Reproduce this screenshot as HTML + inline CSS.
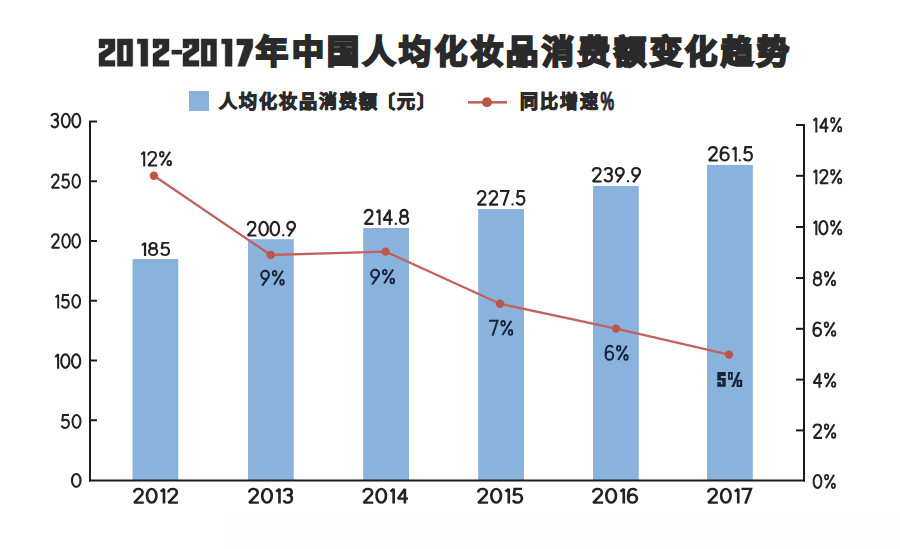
<!DOCTYPE html>
<html lang="zh-CN"><head><meta charset="utf-8"><title>2012-2017年中国人均化妆品消费额变化趋势</title>
<style>
html,body{margin:0;padding:0;background:#ffffff;width:900px;height:549px;overflow:hidden}
svg{display:block;font-family:"Liberation Sans",sans-serif}
</style></head><body>
<svg width="900" height="549" viewBox="0 0 900 549">
<rect x="224" y="512" width="676" height="37" fill="#fdfdfd"/>
<rect x="132.5" y="259.0" width="45.8" height="221.5" fill="#89b2dd"/>
<rect x="248.0" y="239.2" width="45.8" height="241.3" fill="#89b2dd"/>
<rect x="363.2" y="228.0" width="45.8" height="252.5" fill="#89b2dd"/>
<rect x="478.2" y="209.1" width="45.8" height="271.4" fill="#89b2dd"/>
<rect x="593.0" y="185.9" width="45.8" height="294.6" fill="#89b2dd"/>
<rect x="707.0" y="164.9" width="45.8" height="315.6" fill="#89b2dd"/>
<rect x="89" y="121" width="2" height="360.5" fill="#1c1c1c"/>
<rect x="803" y="124" width="2" height="357.5" fill="#1c1c1c"/>
<rect x="89" y="479.5" width="716" height="2" fill="#1c1c1c"/>
<rect x="89" y="120.50" width="8" height="2" fill="#1c1c1c"/>
<rect x="89" y="180.25" width="8" height="2" fill="#1c1c1c"/>
<rect x="89" y="240.00" width="8" height="2" fill="#1c1c1c"/>
<rect x="89" y="299.75" width="8" height="2" fill="#1c1c1c"/>
<rect x="89" y="359.50" width="8" height="2" fill="#1c1c1c"/>
<rect x="89" y="419.25" width="8" height="2" fill="#1c1c1c"/>
<rect x="796" y="124.00" width="9" height="2" fill="#1c1c1c"/>
<rect x="796" y="174.80" width="9" height="2" fill="#1c1c1c"/>
<rect x="796" y="226.00" width="9" height="2" fill="#1c1c1c"/>
<rect x="796" y="277.00" width="9" height="2" fill="#1c1c1c"/>
<rect x="796" y="327.80" width="9" height="2" fill="#1c1c1c"/>
<rect x="796" y="378.60" width="9" height="2" fill="#1c1c1c"/>
<rect x="796" y="429.40" width="9" height="2" fill="#1c1c1c"/>
<polyline points="153.9,175.8 270.6,255.0 385.6,251.6 500.0,303.8 616.1,328.6 729.0,354.6" fill="none" stroke="#c2625f" stroke-width="2.3" stroke-linejoin="round"/>
<circle cx="153.9" cy="175.8" r="4.2" fill="#bb5648"/>
<circle cx="270.6" cy="255.0" r="4.2" fill="#bb5648"/>
<circle cx="385.6" cy="251.6" r="4.2" fill="#bb5648"/>
<circle cx="500.0" cy="303.8" r="4.2" fill="#bb5648"/>
<circle cx="616.1" cy="328.6" r="4.2" fill="#bb5648"/>
<circle cx="729.0" cy="354.6" r="4.2" fill="#bb5648"/>
<g transform="translate(50.50 112.80) scale(0.9624 1.0000)" fill="none" stroke="#222222" stroke-width="2.10" fill-rule="nonzero" style="fill:none"><g transform="translate(0.00 0)"><path d="M0.95,3.5 C1.4,1.9 2.8,0.95 4.4,0.95 C6.5,0.95 7.8,2.2 7.8,4 C7.8,5.9 6.4,7.1 4.2,7.1 H3.4 M4.2,7.1 C6.6,7.1 7.95,8.6 7.95,10.7 C7.95,13 6.3,14.55 4.3,14.55 C2.6,14.55 1.3,13.7 0.95,12.1"/></g><g transform="translate(10.80 0)"><ellipse cx="5.1" cy="7.75" rx="4.15" ry="6.8"/></g><g transform="translate(21.70 0)"><ellipse cx="5.1" cy="7.75" rx="4.15" ry="6.8"/></g></g>
<g transform="translate(50.80 173.60) scale(0.9149 0.9742)" fill="none" stroke="#222222" stroke-width="2.10" fill-rule="nonzero" style="fill:none"><g transform="translate(0.00 0)"><path d="M1.05,4.5 C1.05,2.3 2.7,0.95 4.75,0.95 C6.9,0.95 8.45,2.4 8.45,4.4 C8.45,5.7 7.9,6.6 6.9,7.7 L1.1,14.55 H9.5" stroke-linejoin="miter" stroke-miterlimit="2"/></g><g transform="translate(11.40 0)"><path d="M8.6,0.95 H2.3 L1.5,7.4 C2.3,6.5 3.5,6 4.9,6 C7.1,6 8.45,7.8 8.45,10.2 C8.45,12.7 6.8,14.55 4.7,14.55 C2.8,14.55 1.4,13.6 0.95,12" stroke-linejoin="miter" stroke-miterlimit="2"/></g><g transform="translate(22.70 0)"><ellipse cx="5.1" cy="7.75" rx="4.15" ry="6.8"/></g></g>
<g transform="translate(50.80 233.40) scale(0.9262 0.9871)" fill="none" stroke="#222222" stroke-width="2.10" fill-rule="nonzero" style="fill:none"><g transform="translate(0.00 0)"><path d="M1.05,4.5 C1.05,2.3 2.7,0.95 4.75,0.95 C6.9,0.95 8.45,2.4 8.45,4.4 C8.45,5.7 7.9,6.6 6.9,7.7 L1.1,14.55 H9.5" stroke-linejoin="miter" stroke-miterlimit="2"/></g><g transform="translate(11.40 0)"><ellipse cx="5.1" cy="7.75" rx="4.15" ry="6.8"/></g><g transform="translate(22.30 0)"><ellipse cx="5.1" cy="7.75" rx="4.15" ry="6.8"/></g></g>
<g transform="translate(54.60 294.00) scale(0.9362 0.9419)" fill="none" stroke="#222222" stroke-width="2.10" fill-rule="nonzero" style="fill:none"><g transform="translate(0.00 0)"><path d="M0.95,3.6 L3.85,0.95 V15.5" stroke-linejoin="bevel"/></g><g transform="translate(6.70 0)"><path d="M8.6,0.95 H2.3 L1.5,7.4 C2.3,6.5 3.5,6 4.9,6 C7.1,6 8.45,7.8 8.45,10.2 C8.45,12.7 6.8,14.55 4.7,14.55 C2.8,14.55 1.4,13.6 0.95,12" stroke-linejoin="miter" stroke-miterlimit="2"/></g><g transform="translate(18.00 0)"><ellipse cx="5.1" cy="7.75" rx="4.15" ry="6.8"/></g></g>
<g transform="translate(54.30 353.40) scale(0.9926 0.9935)" fill="none" stroke="#222222" stroke-width="2.10" fill-rule="nonzero" style="fill:none"><g transform="translate(0.00 0)"><path d="M0.95,3.6 L3.85,0.95 V15.5" stroke-linejoin="bevel"/></g><g transform="translate(6.00 0)"><ellipse cx="5.1" cy="7.75" rx="4.15" ry="6.8"/></g><g transform="translate(16.90 0)"><ellipse cx="5.1" cy="7.75" rx="4.15" ry="6.8"/></g></g>
<g transform="translate(60.80 414.00) scale(0.9581 0.9548)" fill="none" stroke="#222222" stroke-width="2.10" fill-rule="nonzero" style="fill:none"><g transform="translate(0.00 0)"><path d="M8.6,0.95 H2.3 L1.5,7.4 C2.3,6.5 3.5,6 4.9,6 C7.1,6 8.45,7.8 8.45,10.2 C8.45,12.7 6.8,14.55 4.7,14.55 C2.8,14.55 1.4,13.6 0.95,12" stroke-linejoin="miter" stroke-miterlimit="2"/></g><g transform="translate(11.30 0)"><ellipse cx="5.1" cy="7.75" rx="4.15" ry="6.8"/></g></g>
<g transform="translate(71.00 473.00) scale(1.0294 0.9548)" fill="none" stroke="#222222" stroke-width="2.10" fill-rule="nonzero" style="fill:none"><g transform="translate(0.00 0)"><ellipse cx="5.1" cy="7.75" rx="4.15" ry="6.8"/></g></g>
<g transform="translate(812.60 117.00) scale(0.9642 1.0065)" fill="none" stroke="#222222" stroke-width="2.10" fill-rule="nonzero" style="fill:none"><g transform="translate(0.00 0)"><path d="M0.95,3.6 L3.85,0.95 V15.5" stroke-linejoin="bevel"/></g><g transform="translate(6.70 0)"><path d="M7.0,15.5 V0.95 L0.95,10.6 H9.7" stroke-linejoin="miter" stroke-miterlimit="2"/></g><g transform="translate(18.30 0)"><ellipse cx="2.6" cy="3.3" rx="1.75" ry="2.35" stroke-width="1.75"/><ellipse cx="9.8" cy="12.2" rx="1.75" ry="2.35" stroke-width="1.75"/><path d="M10.6,0.8 L2.0,14.7"/></g></g>
<g transform="translate(812.60 169.00) scale(0.9705 0.9806)" fill="none" stroke="#222222" stroke-width="2.10" fill-rule="nonzero" style="fill:none"><g transform="translate(0.00 0)"><path d="M0.95,3.6 L3.85,0.95 V15.5" stroke-linejoin="bevel"/></g><g transform="translate(6.70 0)"><path d="M1.05,4.5 C1.05,2.3 2.7,0.95 4.75,0.95 C6.9,0.95 8.45,2.4 8.45,4.4 C8.45,5.7 7.9,6.6 6.9,7.7 L1.1,14.55 H9.5" stroke-linejoin="miter" stroke-miterlimit="2"/></g><g transform="translate(18.10 0)"><ellipse cx="2.6" cy="3.3" rx="1.75" ry="2.35" stroke-width="1.75"/><ellipse cx="9.8" cy="12.2" rx="1.75" ry="2.35" stroke-width="1.75"/><path d="M10.6,0.8 L2.0,14.7"/></g></g>
<g transform="translate(812.60 220.00) scale(0.9705 0.9871)" fill="none" stroke="#222222" stroke-width="2.10" fill-rule="nonzero" style="fill:none"><g transform="translate(0.00 0)"><path d="M0.95,3.6 L3.85,0.95 V15.5" stroke-linejoin="bevel"/></g><g transform="translate(6.00 0)"><ellipse cx="5.1" cy="7.75" rx="4.15" ry="6.8"/></g><g transform="translate(18.10 0)"><ellipse cx="2.6" cy="3.3" rx="1.75" ry="2.35" stroke-width="1.75"/><ellipse cx="9.8" cy="12.2" rx="1.75" ry="2.35" stroke-width="1.75"/><path d="M10.6,0.8 L2.0,14.7"/></g></g>
<g transform="translate(812.80 271.00) scale(0.9667 0.9871)" fill="none" stroke="#222222" stroke-width="2.10" fill-rule="nonzero" style="fill:none"><g transform="translate(0.00 0)"><ellipse cx="4.85" cy="4.2" rx="3.3" ry="3.25"/><ellipse cx="4.85" cy="10.65" rx="3.9" ry="3.9"/></g><g transform="translate(11.60 0)"><ellipse cx="2.6" cy="3.3" rx="1.75" ry="2.35" stroke-width="1.75"/><ellipse cx="9.8" cy="12.2" rx="1.75" ry="2.35" stroke-width="1.75"/><path d="M10.6,0.8 L2.0,14.7"/></g></g>
<g transform="translate(812.60 321.50) scale(0.9958 0.9871)" fill="none" stroke="#222222" stroke-width="2.10" fill-rule="nonzero" style="fill:none"><g transform="translate(0.00 0)"><path d="M8.1,2.6 C7.4,1.5 6.3,0.95 4.9,0.95 C2.4,0.95 0.95,3.5 0.95,7.8 V10.5"/><ellipse cx="4.7" cy="10.5" rx="3.75" ry="4.05"/></g><g transform="translate(11.30 0)"><ellipse cx="2.6" cy="3.3" rx="1.75" ry="2.35" stroke-width="1.75"/><ellipse cx="9.8" cy="12.2" rx="1.75" ry="2.35" stroke-width="1.75"/><path d="M10.6,0.8 L2.0,14.7"/></g></g>
<g transform="translate(812.60 372.50) scale(0.9833 0.9871)" fill="none" stroke="#222222" stroke-width="2.10" fill-rule="nonzero" style="fill:none"><g transform="translate(0.00 0)"><path d="M7.0,15.5 V0.95 L0.95,10.6 H9.7" stroke-linejoin="miter" stroke-miterlimit="2"/></g><g transform="translate(11.60 0)"><ellipse cx="2.6" cy="3.3" rx="1.75" ry="2.35" stroke-width="1.75"/><ellipse cx="9.8" cy="12.2" rx="1.75" ry="2.35" stroke-width="1.75"/><path d="M10.6,0.8 L2.0,14.7"/></g></g>
<g transform="translate(812.60 423.50) scale(0.9916 0.9871)" fill="none" stroke="#222222" stroke-width="2.10" fill-rule="nonzero" style="fill:none"><g transform="translate(0.00 0)"><path d="M1.05,4.5 C1.05,2.3 2.7,0.95 4.75,0.95 C6.9,0.95 8.45,2.4 8.45,4.4 C8.45,5.7 7.9,6.6 6.9,7.7 L1.1,14.55 H9.5" stroke-linejoin="miter" stroke-miterlimit="2"/></g><g transform="translate(11.40 0)"><ellipse cx="2.6" cy="3.3" rx="1.75" ry="2.35" stroke-width="1.75"/><ellipse cx="9.8" cy="12.2" rx="1.75" ry="2.35" stroke-width="1.75"/><path d="M10.6,0.8 L2.0,14.7"/></g></g>
<g transform="translate(812.70 474.00) scale(0.9429 0.9677)" fill="none" stroke="#222222" stroke-width="2.10" fill-rule="nonzero" style="fill:none"><g transform="translate(0.00 0)"><ellipse cx="5.1" cy="7.75" rx="4.15" ry="6.8"/></g><g transform="translate(12.10 0)"><ellipse cx="2.6" cy="3.3" rx="1.75" ry="2.35" stroke-width="1.75"/><ellipse cx="9.8" cy="12.2" rx="1.75" ry="2.35" stroke-width="1.75"/><path d="M10.6,0.8 L2.0,14.7"/></g></g>
<g transform="translate(133.00 488.00) scale(1.1335 1.0065)" fill="none" stroke="#222222" stroke-width="2.30" fill-rule="nonzero" style="fill:none"><g transform="translate(0.00 0)"><path d="M1.05,4.5 C1.05,2.3 2.7,0.95 4.75,0.95 C6.9,0.95 8.45,2.4 8.45,4.4 C8.45,5.7 7.9,6.6 6.9,7.7 L1.1,14.55 H9.5" stroke-linejoin="miter" stroke-miterlimit="2"/></g><g transform="translate(11.40 0)"><ellipse cx="5.1" cy="7.75" rx="4.15" ry="6.8"/></g><g transform="translate(23.50 0)"><path d="M0.95,3.6 L3.85,0.95 V15.5" stroke-linejoin="bevel"/></g><g transform="translate(30.20 0)"><path d="M1.05,4.5 C1.05,2.3 2.7,0.95 4.75,0.95 C6.9,0.95 8.45,2.4 8.45,4.4 C8.45,5.7 7.9,6.6 6.9,7.7 L1.1,14.55 H9.5" stroke-linejoin="miter" stroke-miterlimit="2"/></g></g>
<g transform="translate(248.00 488.00) scale(1.1509 1.0065)" fill="none" stroke="#222222" stroke-width="2.30" fill-rule="nonzero" style="fill:none"><g transform="translate(0.00 0)"><path d="M1.05,4.5 C1.05,2.3 2.7,0.95 4.75,0.95 C6.9,0.95 8.45,2.4 8.45,4.4 C8.45,5.7 7.9,6.6 6.9,7.7 L1.1,14.55 H9.5" stroke-linejoin="miter" stroke-miterlimit="2"/></g><g transform="translate(11.40 0)"><ellipse cx="5.1" cy="7.75" rx="4.15" ry="6.8"/></g><g transform="translate(23.50 0)"><path d="M0.95,3.6 L3.85,0.95 V15.5" stroke-linejoin="bevel"/></g><g transform="translate(30.20 0)"><path d="M0.95,3.5 C1.4,1.9 2.8,0.95 4.4,0.95 C6.5,0.95 7.8,2.2 7.8,4 C7.8,5.9 6.4,7.1 4.2,7.1 H3.4 M4.2,7.1 C6.6,7.1 7.95,8.6 7.95,10.7 C7.95,13 6.3,14.55 4.3,14.55 C2.6,14.55 1.3,13.7 0.95,12.1"/></g></g>
<g transform="translate(362.40 488.00) scale(1.1429 1.0065)" fill="none" stroke="#222222" stroke-width="2.30" fill-rule="nonzero" style="fill:none"><g transform="translate(0.00 0)"><path d="M1.05,4.5 C1.05,2.3 2.7,0.95 4.75,0.95 C6.9,0.95 8.45,2.4 8.45,4.4 C8.45,5.7 7.9,6.6 6.9,7.7 L1.1,14.55 H9.5" stroke-linejoin="miter" stroke-miterlimit="2"/></g><g transform="translate(11.40 0)"><ellipse cx="5.1" cy="7.75" rx="4.15" ry="6.8"/></g><g transform="translate(23.50 0)"><path d="M0.95,3.6 L3.85,0.95 V15.5" stroke-linejoin="bevel"/></g><g transform="translate(30.20 0)"><path d="M7.0,15.5 V0.95 L0.95,10.6 H9.7" stroke-linejoin="miter" stroke-miterlimit="2"/></g></g>
<g transform="translate(477.00 488.00) scale(1.1616 1.0065)" fill="none" stroke="#222222" stroke-width="2.30" fill-rule="nonzero" style="fill:none"><g transform="translate(0.00 0)"><path d="M1.05,4.5 C1.05,2.3 2.7,0.95 4.75,0.95 C6.9,0.95 8.45,2.4 8.45,4.4 C8.45,5.7 7.9,6.6 6.9,7.7 L1.1,14.55 H9.5" stroke-linejoin="miter" stroke-miterlimit="2"/></g><g transform="translate(11.40 0)"><ellipse cx="5.1" cy="7.75" rx="4.15" ry="6.8"/></g><g transform="translate(23.50 0)"><path d="M0.95,3.6 L3.85,0.95 V15.5" stroke-linejoin="bevel"/></g><g transform="translate(30.20 0)"><path d="M8.6,0.95 H2.3 L1.5,7.4 C2.3,6.5 3.5,6 4.9,6 C7.1,6 8.45,7.8 8.45,10.2 C8.45,12.7 6.8,14.55 4.7,14.55 C2.8,14.55 1.4,13.6 0.95,12" stroke-linejoin="miter" stroke-miterlimit="2"/></g></g>
<g transform="translate(592.00 488.00) scale(1.1616 1.0065)" fill="none" stroke="#222222" stroke-width="2.30" fill-rule="nonzero" style="fill:none"><g transform="translate(0.00 0)"><path d="M1.05,4.5 C1.05,2.3 2.7,0.95 4.75,0.95 C6.9,0.95 8.45,2.4 8.45,4.4 C8.45,5.7 7.9,6.6 6.9,7.7 L1.1,14.55 H9.5" stroke-linejoin="miter" stroke-miterlimit="2"/></g><g transform="translate(11.40 0)"><ellipse cx="5.1" cy="7.75" rx="4.15" ry="6.8"/></g><g transform="translate(23.50 0)"><path d="M0.95,3.6 L3.85,0.95 V15.5" stroke-linejoin="bevel"/></g><g transform="translate(30.20 0)"><path d="M8.1,2.6 C7.4,1.5 6.3,0.95 4.9,0.95 C2.4,0.95 0.95,3.5 0.95,7.8 V10.5"/><ellipse cx="4.7" cy="10.5" rx="3.75" ry="4.05"/></g></g>
<g transform="translate(707.00 488.00) scale(1.1421 1.0065)" fill="none" stroke="#222222" stroke-width="2.30" fill-rule="nonzero" style="fill:none"><g transform="translate(0.00 0)"><path d="M1.05,4.5 C1.05,2.3 2.7,0.95 4.75,0.95 C6.9,0.95 8.45,2.4 8.45,4.4 C8.45,5.7 7.9,6.6 6.9,7.7 L1.1,14.55 H9.5" stroke-linejoin="miter" stroke-miterlimit="2"/></g><g transform="translate(11.40 0)"><ellipse cx="5.1" cy="7.75" rx="4.15" ry="6.8"/></g><g transform="translate(23.50 0)"><path d="M0.95,3.6 L3.85,0.95 V15.5" stroke-linejoin="bevel"/></g><g transform="translate(30.20 0)"><path d="M0,0.95 H8.25 L3.4,15.5" stroke-linejoin="miter" stroke-miterlimit="2"/></g></g>
<g transform="translate(141.00 242.00) scale(1.0469 0.9032)" fill="none" stroke="#222222" stroke-width="2.10" fill-rule="nonzero" style="fill:none"><g transform="translate(0.00 0)"><path d="M0.95,3.6 L3.85,0.95 V15.5" stroke-linejoin="bevel"/></g><g transform="translate(6.70 0)"><ellipse cx="4.85" cy="4.2" rx="3.3" ry="3.25"/><ellipse cx="4.85" cy="10.65" rx="3.9" ry="3.9"/></g><g transform="translate(18.30 0)"><path d="M8.6,0.95 H2.3 L1.5,7.4 C2.3,6.5 3.5,6 4.9,6 C7.1,6 8.45,7.8 8.45,10.2 C8.45,12.7 6.8,14.55 4.7,14.55 C2.8,14.55 1.4,13.6 0.95,12" stroke-linejoin="miter" stroke-miterlimit="2"/></g></g>
<g transform="translate(246.70 220.90) scale(1.0271 1.0000)" fill="none" stroke="#222222" stroke-width="2.10" fill-rule="nonzero" style="fill:none"><g transform="translate(0.00 0)"><path d="M1.05,4.5 C1.05,2.3 2.7,0.95 4.75,0.95 C6.9,0.95 8.45,2.4 8.45,4.4 C8.45,5.7 7.9,6.6 6.9,7.7 L1.1,14.55 H9.5" stroke-linejoin="miter" stroke-miterlimit="2"/></g><g transform="translate(11.40 0)"><ellipse cx="5.1" cy="7.75" rx="4.15" ry="6.8"/></g><g transform="translate(22.30 0)"><ellipse cx="5.1" cy="7.75" rx="4.15" ry="6.8"/></g><g transform="translate(34.40 0)"><circle cx="1.15" cy="14.35" r="1.15" stroke="none" fill="#222222" style="fill:#222222"/></g><g transform="translate(38.60 0)"><path d="M1.9,15.5 L7.3,7.9 C8.1,6.7 8.45,5.8 8.45,4.9 C8.45,2.7 6.8,0.95 4.7,0.95 C2.6,0.95 0.95,2.7 0.95,4.9 C0.95,7.1 2.6,8.9 4.7,8.9 C5.9,8.9 6.8,8.4 7.3,7.9"/></g></g>
<g transform="translate(363.60 208.90) scale(1.0436 1.0323)" fill="none" stroke="#222222" stroke-width="2.10" fill-rule="nonzero" style="fill:none"><g transform="translate(0.00 0)"><path d="M1.05,4.5 C1.05,2.3 2.7,0.95 4.75,0.95 C6.9,0.95 8.45,2.4 8.45,4.4 C8.45,5.7 7.9,6.6 6.9,7.7 L1.1,14.55 H9.5" stroke-linejoin="miter" stroke-miterlimit="2"/></g><g transform="translate(11.40 0)"><path d="M0.95,3.6 L3.85,0.95 V15.5" stroke-linejoin="bevel"/></g><g transform="translate(18.10 0)"><path d="M7.0,15.5 V0.95 L0.95,10.6 H9.7" stroke-linejoin="miter" stroke-miterlimit="2"/></g><g transform="translate(29.70 0)"><circle cx="1.15" cy="14.35" r="1.15" stroke="none" fill="#222222" style="fill:#222222"/></g><g transform="translate(33.90 0)"><ellipse cx="4.85" cy="4.2" rx="3.3" ry="3.25"/><ellipse cx="4.85" cy="10.65" rx="3.9" ry="3.9"/></g></g>
<g transform="translate(476.70 190.00) scale(1.0232 1.0065)" fill="none" stroke="#222222" stroke-width="2.10" fill-rule="nonzero" style="fill:none"><g transform="translate(0.00 0)"><path d="M1.05,4.5 C1.05,2.3 2.7,0.95 4.75,0.95 C6.9,0.95 8.45,2.4 8.45,4.4 C8.45,5.7 7.9,6.6 6.9,7.7 L1.1,14.55 H9.5" stroke-linejoin="miter" stroke-miterlimit="2"/></g><g transform="translate(11.40 0)"><path d="M1.05,4.5 C1.05,2.3 2.7,0.95 4.75,0.95 C6.9,0.95 8.45,2.4 8.45,4.4 C8.45,5.7 7.9,6.6 6.9,7.7 L1.1,14.55 H9.5" stroke-linejoin="miter" stroke-miterlimit="2"/></g><g transform="translate(22.80 0)"><path d="M0,0.95 H8.25 L3.4,15.5" stroke-linejoin="miter" stroke-miterlimit="2"/></g><g transform="translate(33.90 0)"><circle cx="1.15" cy="14.35" r="1.15" stroke="none" fill="#222222" style="fill:#222222"/></g><g transform="translate(38.10 0)"><path d="M8.6,0.95 H2.3 L1.5,7.4 C2.3,6.5 3.5,6 4.9,6 C7.1,6 8.45,7.8 8.45,10.2 C8.45,12.7 6.8,14.55 4.7,14.55 C2.8,14.55 1.4,13.6 0.95,12" stroke-linejoin="miter" stroke-miterlimit="2"/></g></g>
<g transform="translate(591.70 167.00) scale(1.0467 0.9935)" fill="none" stroke="#222222" stroke-width="2.10" fill-rule="nonzero" style="fill:none"><g transform="translate(0.00 0)"><path d="M1.05,4.5 C1.05,2.3 2.7,0.95 4.75,0.95 C6.9,0.95 8.45,2.4 8.45,4.4 C8.45,5.7 7.9,6.6 6.9,7.7 L1.1,14.55 H9.5" stroke-linejoin="miter" stroke-miterlimit="2"/></g><g transform="translate(11.40 0)"><path d="M0.95,3.5 C1.4,1.9 2.8,0.95 4.4,0.95 C6.5,0.95 7.8,2.2 7.8,4 C7.8,5.9 6.4,7.1 4.2,7.1 H3.4 M4.2,7.1 C6.6,7.1 7.95,8.6 7.95,10.7 C7.95,13 6.3,14.55 4.3,14.55 C2.6,14.55 1.3,13.7 0.95,12.1"/></g><g transform="translate(22.20 0)"><path d="M1.9,15.5 L7.3,7.9 C8.1,6.7 8.45,5.8 8.45,4.9 C8.45,2.7 6.8,0.95 4.7,0.95 C2.6,0.95 0.95,2.7 0.95,4.9 C0.95,7.1 2.6,8.9 4.7,8.9 C5.9,8.9 6.8,8.4 7.3,7.9"/></g><g transform="translate(33.50 0)"><circle cx="1.15" cy="14.35" r="1.15" stroke="none" fill="#222222" style="fill:#222222"/></g><g transform="translate(37.70 0)"><path d="M1.9,15.5 L7.3,7.9 C8.1,6.7 8.45,5.8 8.45,4.9 C8.45,2.7 6.8,0.95 4.7,0.95 C2.6,0.95 0.95,2.7 0.95,4.9 C0.95,7.1 2.6,8.9 4.7,8.9 C5.9,8.9 6.8,8.4 7.3,7.9"/></g></g>
<g transform="translate(707.80 146.20) scale(1.0488 0.9806)" fill="none" stroke="#222222" stroke-width="2.10" fill-rule="nonzero" style="fill:none"><g transform="translate(0.00 0)"><path d="M1.05,4.5 C1.05,2.3 2.7,0.95 4.75,0.95 C6.9,0.95 8.45,2.4 8.45,4.4 C8.45,5.7 7.9,6.6 6.9,7.7 L1.1,14.55 H9.5" stroke-linejoin="miter" stroke-miterlimit="2"/></g><g transform="translate(11.40 0)"><path d="M8.1,2.6 C7.4,1.5 6.3,0.95 4.9,0.95 C2.4,0.95 0.95,3.5 0.95,7.8 V10.5"/><ellipse cx="4.7" cy="10.5" rx="3.75" ry="4.05"/></g><g transform="translate(22.70 0)"><path d="M0.95,3.6 L3.85,0.95 V15.5" stroke-linejoin="bevel"/></g><g transform="translate(29.40 0)"><circle cx="1.15" cy="14.35" r="1.15" stroke="none" fill="#222222" style="fill:#222222"/></g><g transform="translate(33.60 0)"><path d="M8.6,0.95 H2.3 L1.5,7.4 C2.3,6.5 3.5,6 4.9,6 C7.1,6 8.45,7.8 8.45,10.2 C8.45,12.7 6.8,14.55 4.7,14.55 C2.8,14.55 1.4,13.6 0.95,12" stroke-linejoin="miter" stroke-miterlimit="2"/></g></g>
<g transform="translate(140.20 150.90) scale(1.0426 1.0000)" fill="none" stroke="#222222" stroke-width="1.95" fill-rule="nonzero" style="fill:none"><g transform="translate(0.00 0)"><path d="M0.95,3.6 L3.85,0.95 V15.5" stroke-linejoin="bevel"/></g><g transform="translate(6.70 0)"><path d="M1.05,4.5 C1.05,2.3 2.7,0.95 4.75,0.95 C6.9,0.95 8.45,2.4 8.45,4.4 C8.45,5.7 7.9,6.6 6.9,7.7 L1.1,14.55 H9.5" stroke-linejoin="miter" stroke-miterlimit="2"/></g><g transform="translate(18.10 0)"><ellipse cx="2.6" cy="3.3" rx="1.75" ry="2.35" stroke-width="1.75"/><ellipse cx="9.8" cy="12.2" rx="1.75" ry="2.35" stroke-width="1.75"/><path d="M10.6,0.8 L2.0,14.7"/></g></g>
<g transform="translate(260.30 269.90) scale(1.0295 1.0129)" fill="none" stroke="#18233a" stroke-width="1.95" fill-rule="nonzero" style="fill:none"><g transform="translate(0.00 0)"><path d="M1.9,15.5 L7.3,7.9 C8.1,6.7 8.45,5.8 8.45,4.9 C8.45,2.7 6.8,0.95 4.7,0.95 C2.6,0.95 0.95,2.7 0.95,4.9 C0.95,7.1 2.6,8.9 4.7,8.9 C5.9,8.9 6.8,8.4 7.3,7.9"/></g><g transform="translate(11.30 0)"><ellipse cx="2.6" cy="3.3" rx="1.75" ry="2.35" stroke-width="1.75"/><ellipse cx="9.8" cy="12.2" rx="1.75" ry="2.35" stroke-width="1.75"/><path d="M10.6,0.8 L2.0,14.7"/></g></g>
<g transform="translate(370.20 268.80) scale(1.0464 1.0065)" fill="none" stroke="#18233a" stroke-width="1.95" fill-rule="nonzero" style="fill:none"><g transform="translate(0.00 0)"><path d="M1.9,15.5 L7.3,7.9 C8.1,6.7 8.45,5.8 8.45,4.9 C8.45,2.7 6.8,0.95 4.7,0.95 C2.6,0.95 0.95,2.7 0.95,4.9 C0.95,7.1 2.6,8.9 4.7,8.9 C5.9,8.9 6.8,8.4 7.3,7.9"/></g><g transform="translate(11.30 0)"><ellipse cx="2.6" cy="3.3" rx="1.75" ry="2.35" stroke-width="1.75"/><ellipse cx="9.8" cy="12.2" rx="1.75" ry="2.35" stroke-width="1.75"/><path d="M10.6,0.8 L2.0,14.7"/></g></g>
<g transform="translate(489.00 319.90) scale(1.0298 1.0258)" fill="none" stroke="#18233a" stroke-width="1.95" fill-rule="nonzero" style="fill:none"><g transform="translate(0.00 0)"><path d="M0,0.95 H8.25 L3.4,15.5" stroke-linejoin="miter" stroke-miterlimit="2"/></g><g transform="translate(11.10 0)"><ellipse cx="2.6" cy="3.3" rx="1.75" ry="2.35" stroke-width="1.75"/><ellipse cx="9.8" cy="12.2" rx="1.75" ry="2.35" stroke-width="1.75"/><path d="M10.6,0.8 L2.0,14.7"/></g></g>
<g transform="translate(604.70 344.90) scale(1.0084 1.0258)" fill="none" stroke="#18233a" stroke-width="1.95" fill-rule="nonzero" style="fill:none"><g transform="translate(0.00 0)"><path d="M8.1,2.6 C7.4,1.5 6.3,0.95 4.9,0.95 C2.4,0.95 0.95,3.5 0.95,7.8 V10.5"/><ellipse cx="4.7" cy="10.5" rx="3.75" ry="4.05"/></g><g transform="translate(11.30 0)"><ellipse cx="2.6" cy="3.3" rx="1.75" ry="2.35" stroke-width="1.75"/><ellipse cx="9.8" cy="12.2" rx="1.75" ry="2.35" stroke-width="1.75"/><path d="M10.6,0.8 L2.0,14.7"/></g></g>
<path d="M717.3,372.1 h8.4 v3.8 h-4.8 v2.1 h4.8 v8.8 h-8.4 v-4.7 h3.6 v2.2 h1.4 v-3.8 h-5 z M728.1,371.9 h4.7 v7.8 h-4.7 z M729.9,373.7 v4.2 h1.1 v-4.2 z M736.6,379.7 h5.6 v7.2 h-5.6 z M738.6,381.5 v3.6 h1.4 v-3.6 z" fill="#18233a" fill-rule="evenodd"/>
<path d="M737.9,371.9 h2.6 l-6.6,15.2 h-2.6 z" fill="#18233a"/>
<path d="M99,38.9 h16 v11.8 l-10.1,7.2 v2.5 h10.1 v5.9 h-16 v-12.6 l9.2,-5.8 v-3.3 h-3.3 v3.3 h-5.9 z M117.3,38.9 h15.4 v27.4 h-15.4 z M123.2,45.0 v16.1 h3.6 v-16.1 z M137.3,38.9 h10.5 v27.4 h-6.9 v-22.5 h-3.6 z M153,38.9 h16 v11.8 l-10.1,7.2 v2.5 h10.1 v5.9 h-16 v-12.6 l9.2,-5.8 v-3.3 h-3.3 v3.3 h-5.9 z M171.8,50.1 h10.2 v4.2 h-10.2 z M183,38.9 h16 v11.8 l-10.1,7.2 v2.5 h10.1 v5.9 h-16 v-12.6 l9.2,-5.8 v-3.3 h-3.3 v3.3 h-5.9 z M201.2,38.9 h15.4 v27.4 h-15.4 z M207.1,45.0 v16.1 h3.6 v-16.1 z M221.6,38.9 h10.5 v27.4 h-6.9 v-22.5 h-3.6 z M236.8,38.9 h16 v8 l-7.7,19.4 h-7.4 l6.9,-21.4 h-7.8 z" fill="#2a2a2a" fill-rule="evenodd" stroke="#2a2a2a" stroke-width="0.4" stroke-linejoin="round"/>
<text x="255.80" y="63.30" font-size="32.00" font-weight="900" fill="#2a2a2a" stroke="#2a2a2a" stroke-width="2.40" stroke-linejoin="miter" stroke-miterlimit="3">年</text>
<text x="291.60" y="63.30" font-size="32.00" font-weight="900" fill="#2a2a2a" stroke="#2a2a2a" stroke-width="2.40" stroke-linejoin="miter" stroke-miterlimit="3">中</text>
<text x="327.40" y="63.30" font-size="32.00" font-weight="900" fill="#2a2a2a" stroke="#2a2a2a" stroke-width="2.40" stroke-linejoin="miter" stroke-miterlimit="3">国</text>
<text x="363.20" y="63.30" font-size="32.00" font-weight="900" fill="#2a2a2a" stroke="#2a2a2a" stroke-width="2.40" stroke-linejoin="miter" stroke-miterlimit="3">人</text>
<text x="399.00" y="63.30" font-size="32.00" font-weight="900" fill="#2a2a2a" stroke="#2a2a2a" stroke-width="2.40" stroke-linejoin="miter" stroke-miterlimit="3">均</text>
<text x="434.80" y="63.30" font-size="32.00" font-weight="900" fill="#2a2a2a" stroke="#2a2a2a" stroke-width="2.40" stroke-linejoin="miter" stroke-miterlimit="3">化</text>
<text x="470.60" y="63.30" font-size="32.00" font-weight="900" fill="#2a2a2a" stroke="#2a2a2a" stroke-width="2.40" stroke-linejoin="miter" stroke-miterlimit="3">妆</text>
<text x="506.40" y="63.30" font-size="32.00" font-weight="900" fill="#2a2a2a" stroke="#2a2a2a" stroke-width="2.40" stroke-linejoin="miter" stroke-miterlimit="3">品</text>
<text x="542.20" y="63.30" font-size="32.00" font-weight="900" fill="#2a2a2a" stroke="#2a2a2a" stroke-width="2.40" stroke-linejoin="miter" stroke-miterlimit="3">消</text>
<text x="578.00" y="63.30" font-size="32.00" font-weight="900" fill="#2a2a2a" stroke="#2a2a2a" stroke-width="2.40" stroke-linejoin="miter" stroke-miterlimit="3">费</text>
<text x="613.80" y="63.30" font-size="32.00" font-weight="900" fill="#2a2a2a" stroke="#2a2a2a" stroke-width="2.40" stroke-linejoin="miter" stroke-miterlimit="3">额</text>
<text x="649.60" y="63.30" font-size="32.00" font-weight="900" fill="#2a2a2a" stroke="#2a2a2a" stroke-width="2.40" stroke-linejoin="miter" stroke-miterlimit="3">变</text>
<text x="685.40" y="63.30" font-size="32.00" font-weight="900" fill="#2a2a2a" stroke="#2a2a2a" stroke-width="2.40" stroke-linejoin="miter" stroke-miterlimit="3">化</text>
<text x="721.20" y="63.30" font-size="32.00" font-weight="900" fill="#2a2a2a" stroke="#2a2a2a" stroke-width="2.40" stroke-linejoin="miter" stroke-miterlimit="3">趋</text>
<text x="757.00" y="63.30" font-size="32.00" font-weight="900" fill="#2a2a2a" stroke="#2a2a2a" stroke-width="2.40" stroke-linejoin="miter" stroke-miterlimit="3">势</text>
<rect x="189" y="91" width="20" height="20" fill="#89b2dd"/>
<text x="219.00" y="107.50" font-size="18.00" font-weight="900" fill="#2a2a2a" stroke="#2a2a2a" stroke-width="1.10" stroke-linejoin="miter" stroke-miterlimit="3">人</text>
<text x="239.00" y="107.50" font-size="18.00" font-weight="900" fill="#2a2a2a" stroke="#2a2a2a" stroke-width="1.10" stroke-linejoin="miter" stroke-miterlimit="3">均</text>
<text x="259.00" y="107.50" font-size="18.00" font-weight="900" fill="#2a2a2a" stroke="#2a2a2a" stroke-width="1.10" stroke-linejoin="miter" stroke-miterlimit="3">化</text>
<text x="279.00" y="107.50" font-size="18.00" font-weight="900" fill="#2a2a2a" stroke="#2a2a2a" stroke-width="1.10" stroke-linejoin="miter" stroke-miterlimit="3">妆</text>
<text x="299.00" y="107.50" font-size="18.00" font-weight="900" fill="#2a2a2a" stroke="#2a2a2a" stroke-width="1.10" stroke-linejoin="miter" stroke-miterlimit="3">品</text>
<text x="319.00" y="107.50" font-size="18.00" font-weight="900" fill="#2a2a2a" stroke="#2a2a2a" stroke-width="1.10" stroke-linejoin="miter" stroke-miterlimit="3">消</text>
<text x="339.00" y="107.50" font-size="18.00" font-weight="900" fill="#2a2a2a" stroke="#2a2a2a" stroke-width="1.10" stroke-linejoin="miter" stroke-miterlimit="3">费</text>
<text x="359.00" y="107.50" font-size="18.00" font-weight="900" fill="#2a2a2a" stroke="#2a2a2a" stroke-width="1.10" stroke-linejoin="miter" stroke-miterlimit="3">额</text>
<text x="377.00" y="107.50" font-size="18.00" font-weight="900" fill="#2a2a2a" stroke="#2a2a2a" stroke-width="1.10" stroke-linejoin="miter" stroke-miterlimit="3">〔</text>
<text x="397.00" y="107.50" font-size="18.00" font-weight="900" fill="#2a2a2a" stroke="#2a2a2a" stroke-width="1.10" stroke-linejoin="miter" stroke-miterlimit="3">元</text>
<text x="417.00" y="107.50" font-size="18.00" font-weight="900" fill="#2a2a2a" stroke="#2a2a2a" stroke-width="1.10" stroke-linejoin="miter" stroke-miterlimit="3">〕</text>
<rect x="468" y="101" width="39" height="2.6" fill="#c2625f"/>
<circle cx="487" cy="102.3" r="5" fill="#bb5648"/>
<text x="520.00" y="107.50" font-size="18.00" font-weight="900" fill="#2a2a2a" stroke="#2a2a2a" stroke-width="1.10" stroke-linejoin="miter" stroke-miterlimit="3">同</text>
<text x="540.00" y="107.50" font-size="18.00" font-weight="900" fill="#2a2a2a" stroke="#2a2a2a" stroke-width="1.10" stroke-linejoin="miter" stroke-miterlimit="3">比</text>
<text x="560.00" y="107.50" font-size="18.00" font-weight="900" fill="#2a2a2a" stroke="#2a2a2a" stroke-width="1.10" stroke-linejoin="miter" stroke-miterlimit="3">增</text>
<text x="580.00" y="107.50" font-size="18.00" font-weight="900" fill="#2a2a2a" stroke="#2a2a2a" stroke-width="1.10" stroke-linejoin="miter" stroke-miterlimit="3">速</text>
<text transform="translate(600.62 109.81) scale(0.6142 1)" font-size="24.87" font-weight="bold" fill="#2a2a2a" stroke="#2a2a2a" stroke-width="1.0">%</text>
</svg>
</body></html>
